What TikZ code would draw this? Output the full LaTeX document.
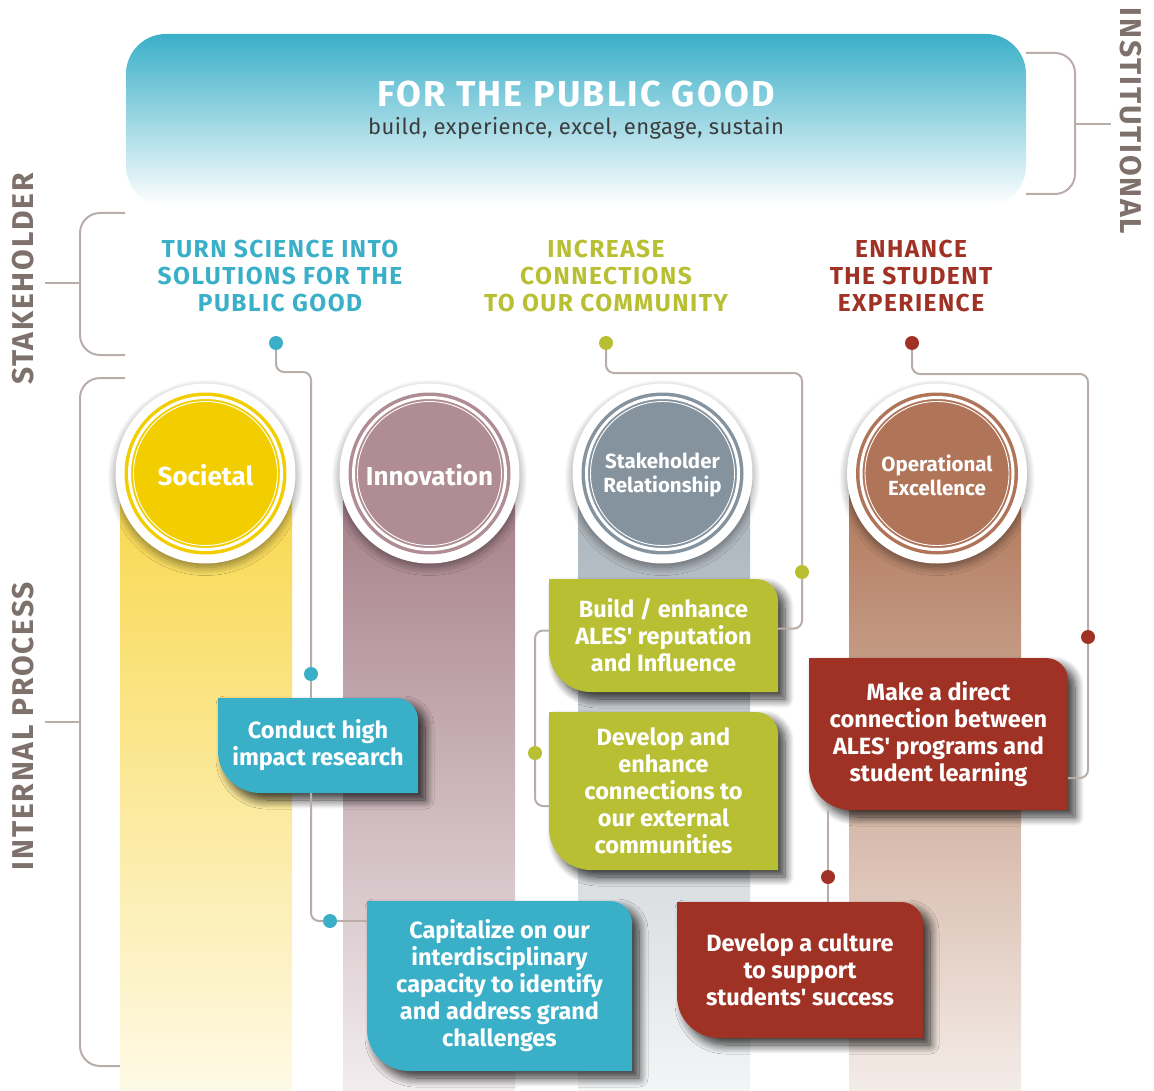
\documentclass[tikz,border=0pt]{standalone}
\usepackage{fontspec}
\setmainfont{Fira Sans}
\newfontfamily\spacedfont[LetterSpace=6]{Fira Sans}
\newfontfamily\mottofont[LetterSpace=2.2]{Fira Sans}
\usepackage{xcolor}
\definecolor{tealC}{HTML}{3AAFC8}
\definecolor{oliveC}{HTML}{B8BF33}
\definecolor{redC}{HTML}{A03125}
\definecolor{socY}{HTML}{F2CD00}
\definecolor{socCol}{HTML}{F8D74A}
\definecolor{innM}{HTML}{B08C95}
\definecolor{innCol}{HTML}{A47C86}
\definecolor{stkG}{HTML}{85939E}
\definecolor{stkCol}{HTML}{A9B2BA}
\definecolor{opsB}{HTML}{B07459}
\definecolor{opsCol}{HTML}{B07759}
\definecolor{lineGray}{HTML}{B8ADA8}
\definecolor{labelGray}{HTML}{7E716B}
\definecolor{mottoGray}{HTML}{3C3C3C}
\usetikzlibrary{positioning,shadows.blur}

\begin{document}
\begin{tikzpicture}[x=1pt, y=-1pt,
    every node/.style={inner sep=0pt},
    title/.style={text=white, font=\spacedfont\bfseries\fontsize{36}{40}\selectfont},
    motto/.style={text=mottoGray, font=\mottofont\fontsize{22}{24}\selectfont},
    head/.style={text=#1, align=center,
                 font=\spacedfont\bfseries\fontsize{24.5}{27.3}\selectfont},
    side/.style={text=labelGray, font=\spacedfont\bfseries\fontsize{30}{32}\selectfont},
    disc/.style={text=white, align=center, font=\bfseries\fontsize{26}{28}\selectfont},
    smalldisc/.style={disc, font=\bfseries\fontsize{20.5}{24}\selectfont},
    goal/.style={text=white, align=center, minimum width=#1,
                 font=\bfseries\fontsize{23.5}{27}\selectfont},
    dot/.style={circle, fill=#1, minimum size=14pt},
    conn/.style={draw=lineGray, line width=2pt, rounded corners=8pt},
    brace/.style={draw=lineGray, line width=2pt, rounded corners=20pt},
    pillar/.style={top color=#1, middle color=#1!88, bottom color=#1!14},
    halo/.style={blur shadow={shadow xshift=0pt, shadow yshift=-4pt,
                 shadow blur radius=8pt, shadow blur steps=12, shadow opacity=45}},
    boxshadow/.style={blur shadow={shadow xshift=7pt, shadow yshift=-7pt,
                 shadow blur radius=9pt, shadow blur steps=12, shadow opacity=80}}]
  \useasboundingbox (0,0) rectangle (1154,1091);

  \shade[top color=tealC, middle color=tealC!65, bottom color=white, rounded corners=40pt]
    (126,34) rectangle (1026,206);
  \node[title] (title) at (576,94) {FOR THE PUBLIC GOOD};
  \node[motto] (motto) at (576,128.5) {build, experience, excel, engage, sustain};

  \node[side, rotate=90] (stakeLbl) at (23,279) {STAKEHOLDER};
  \node[side, rotate=90] (procLbl) at (23,726) {INTERNAL PROCESS};
  \node[side, rotate=-90] (instLbl) at (1131,121) {INSTITUTIONAL};

  \draw[brace] (1026,53) -| (1075,124) |- (1026,194);
  \draw[brace] (1075,124) -- (1111,124);
  \draw[brace] (125,213) -| (80,283) |- (125,355);
  \draw[brace] (80,283) -- (45,283);
  \draw[brace] (125,378) -| (80,722) |- (125,1066);
  \draw[brace] (80,722) -- (45,722);

  \node[head=tealC] (sciHead) at (280,276) {TURN SCIENCE INTO\\SOLUTIONS FOR THE\\PUBLIC GOOD};
  \node[head=oliveC] (comHead) at (606,276) {INCREASE\\CONNECTIONS\\TO OUR COMMUNITY};
  \node[head=redC] (stuHead) at (911,276) {ENHANCE\\THE STUDENT\\EXPERIENCE};

  \shade[pillar=socCol] (120,473) rectangle ++(172,618);
  \shade[pillar=innCol] (343,473) rectangle ++(172,618);
  \shade[pillar=stkCol] (578,473) rectangle ++(172,618);
  \shade[pillar=opsCol] (849,473) rectangle ++(172,618);

  \foreach \n/\x/\c/\s/\t in {societal/205.5/socY/disc/Societal,
      innovation/429.5/innM/disc/Innovation,
      stakeholder/662.5/stkG/smalldisc/{Stakeholder\\Relationship},
      operational/937/opsB/smalldisc/{Operational\\Excellence}} {
    \fill[white, halo] (\x,473.5) circle[radius=90pt];
    \fill[\c] (\x,473.5) circle[radius=81pt];
    \draw[white, line width=3pt] (\x,473.5) circle[radius=76pt];
    \draw[white, line width=0.9pt] (\x,473.5) circle[radius=72pt];
    \node[\s] (\n) at (\x,475) {\t};
  }

  \foreach \b/\x/\y/\w/\h/\c/\t in {
      conduct/318/745.5/200/95/tealC/{Conduct high\\impact research},
      capital/499.5/986/265/170/tealC/{Capitalize on our\\interdisciplinary\\capacity to identify\\and address grand\\challenges},
      build/663.5/635.5/229/113/oliveC/{Build / enhance\\ALES\textquotesingle{} reputation\\and Influence},
      devcon/663.5/791/229/158/oliveC/{Develop and\\enhance\\connections to\\our external\\communities},
      direct/938.5/734/259/152/redC/{Make a direct\\connection between\\ALES\textquotesingle{} programs and\\student learning},
      culture/800/970/246/136/redC/{Develop a culture\\to support\\students\textquotesingle{} success}} {
    \fill[\c, boxshadow] (\x-\w/2,\y-\h/2) -- (\x+\w/2-22,\y-\h/2)
      arc[start angle=90, end angle=0, radius=22pt] -- (\x+\w/2,\y+\h/2)
      -- (\x-\w/2+42,\y+\h/2) arc[start angle=270, end angle=180, radius=42pt] -- cycle;
    \node[goal=\w pt, minimum height=\h pt] (\b) at (\x,\y) {\t};
  }

  \node[dot=tealC] (sciDot) at (276,343) {};
  \node[dot=oliveC] (comDot) at (606,343) {};
  \node[dot=redC] (stuDot) at (912,343) {};
  \node[dot=tealC] (conductDot) at (311,674) {};
  \node[dot=tealC] (capitalDot) at (330,921) {};
  \node[dot=oliveC] (buildDot) at (802,572) {};
  \node[dot=oliveC] (devconDot) at (535,753) {};
  \node[dot=redC] (directDot) at (1088,637) {};
  \node[dot=redC] (cultureDot) at (828,877) {};

  \draw[conn] (sciDot) -- ++(0,29) -| (conductDot);
  \draw[conn] (conductDot) -- (conductDot |- conduct.north);
  \draw[conn] (conductDot |- conduct.south) |- (capitalDot);
  \draw[conn] (capitalDot) -- (capitalDot -| capital.west);
  \draw[conn] (comDot) -- ++(0,30) -| (buildDot);
  \draw[conn] (buildDot) |- ([yshift=7pt]build.east);
  \draw[conn] ([yshift=5pt]build.west) -| (devconDot);
  \draw[conn] (devconDot) |- ([yshift=-15pt]devcon.west);
  \draw[conn] (stuDot) -- ++(0,31) -| (directDot);
  \draw[conn] (directDot) |- ([yshift=-44pt]direct.east);
  \draw[conn] (cultureDot |- direct.south) -- (cultureDot);
  \draw[conn] (cultureDot) -- (cultureDot |- culture.north);
\end{tikzpicture}
\end{document}
